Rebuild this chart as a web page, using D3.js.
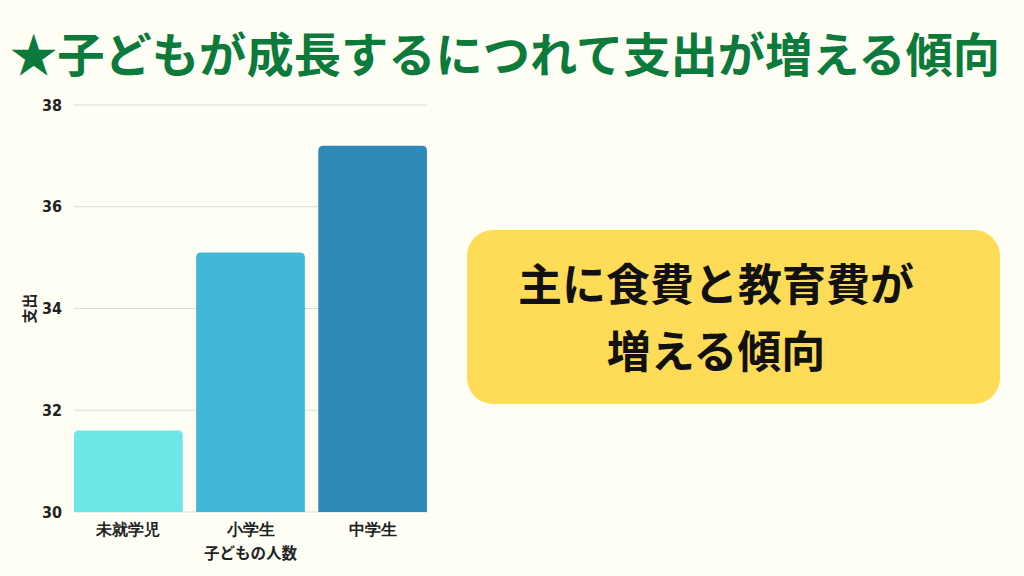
<!DOCTYPE html>
<html>
<head>
<meta charset="utf-8">
<script src="https://cdn.jsdelivr.net/npm/d3@7"></script>
<style>
  body { margin: 0; background: #fefef5; }
  svg { display: block; font-family: "Noto Sans CJK JP", "Noto Sans", sans-serif; }
</style>
</head>
<body>
<svg id="chart"></svg>
<script>
// data
const categories = ["未就学児", "小学生", "中学生"];
const spending = [31.6, 35.1, 37.2];
const yTicks = [30, 32, 34, 36, 38];
const barColors = ["#6ee6e8", "#43b8d6", "#2e8bb9"];
const titleText = "★子どもが成長するにつれて支出が増える傾向";
const calloutLines = ["主に食費と教育費が", "増える傾向"];

const W = 1024, H = 576;
const margin = {top: 105, right: 597, bottom: 64, left: 74};

const svg = d3.select("#chart")
    .attr("width", W)
    .attr("height", H);

svg.append("rect")
    .attr("width", W)
    .attr("height", H)
    .attr("fill", "#fefef5");

// title
svg.append("text")
    .attr("x", 10)
    .attr("y", 72)
    .attr("fill", "#0b7a3b")
    .attr("font-size", 47)
    .attr("font-weight", 700)
    .attr("textLength", 990)
    .attr("lengthAdjust", "spacingAndGlyphs")
    .text(titleText);

const width = W - margin.left - margin.right;
const height = H - margin.top - margin.bottom;

const chart = svg.append("g")
    .attr("transform", `translate(${margin.left},${margin.top})`);

const x = d3.scaleBand()
    .domain(categories)
    .range([0, width])
    .paddingInner(0.11)
    .paddingOuter(0);

const y = d3.scaleLinear()
    .domain([30, 38])
    .range([height, 0]);

// gridlines
chart.selectAll(".grid")
    .data(yTicks)
    .enter()
    .append("line")
        .attr("x1", 0)
        .attr("x2", width)
        .attr("y1", d => y(d))
        .attr("y2", d => y(d))
        .attr("stroke", "#dcdcd6")
        .attr("stroke-width", 1);

// bars with rounded tops
const r = 5;
chart.selectAll(".bar")
    .data(spending)
    .enter()
    .append("path")
        .attr("d", (d, i) => {
            const x0 = x(categories[i]), w = x.bandwidth();
            const y0 = y(d), y1 = y(30);
            return `M${x0},${y1} V${y0 + r} Q${x0},${y0} ${x0 + r},${y0} H${x0 + w - r} Q${x0 + w},${y0} ${x0 + w},${y0 + r} V${y1} Z`;
        })
        .attr("fill", (d, i) => barColors[i]);

// y axis
const yAxis = chart.append("g")
    .call(d3.axisLeft(y).tickValues(yTicks).tickSize(0).tickPadding(12));
yAxis.select(".domain").remove();
yAxis.selectAll("text")
    .attr("font-size", 16)
    .attr("font-weight", 700)
    .attr("fill", "#222")
    .attr("font-family", "'DejaVu Sans Condensed', 'DejaVu Sans', sans-serif");

// x axis
const xAxis = chart.append("g")
    .attr("transform", `translate(0,${height})`)
    .call(d3.axisBottom(x).tickSize(0).tickPadding(12));
xAxis.select(".domain").remove();
xAxis.selectAll("text")
    .attr("font-size", 15.5)
    .attr("font-weight", 700)
    .attr("fill", "#222");

// axis titles
svg.append("text")
    .attr("x", margin.left + width / 2)
    .attr("y", 559)
    .attr("text-anchor", "middle")
    .attr("font-size", 15.5)
    .attr("font-weight", 700)
    .attr("fill", "#222")
    .text("子どもの人数");

svg.append("text")
    .attr("transform", `translate(35,${margin.top + height / 2}) rotate(-90)`)
    .attr("text-anchor", "middle")
    .attr("font-size", 15)
    .attr("font-weight", 700)
    .attr("fill", "#222")
    .text("支出");

// callout box
const box = {x: 467, y: 230, w: 533, h: 174};
svg.append("rect")
    .attr("x", box.x)
    .attr("y", box.y)
    .attr("width", box.w)
    .attr("height", box.h)
    .attr("rx", 26)
    .attr("fill", "#ffdc57");

svg.selectAll(".callout")
    .data(calloutLines)
    .enter()
    .append("text")
        .attr("x", 716)
        .attr("y", (d, i) => 301 + i * 67)
        .attr("text-anchor", "middle")
        .attr("font-size", 44)
        .attr("font-weight", 700)
        .attr("fill", "#111")
        .text(d => d);
</script>
</body>
</html>
